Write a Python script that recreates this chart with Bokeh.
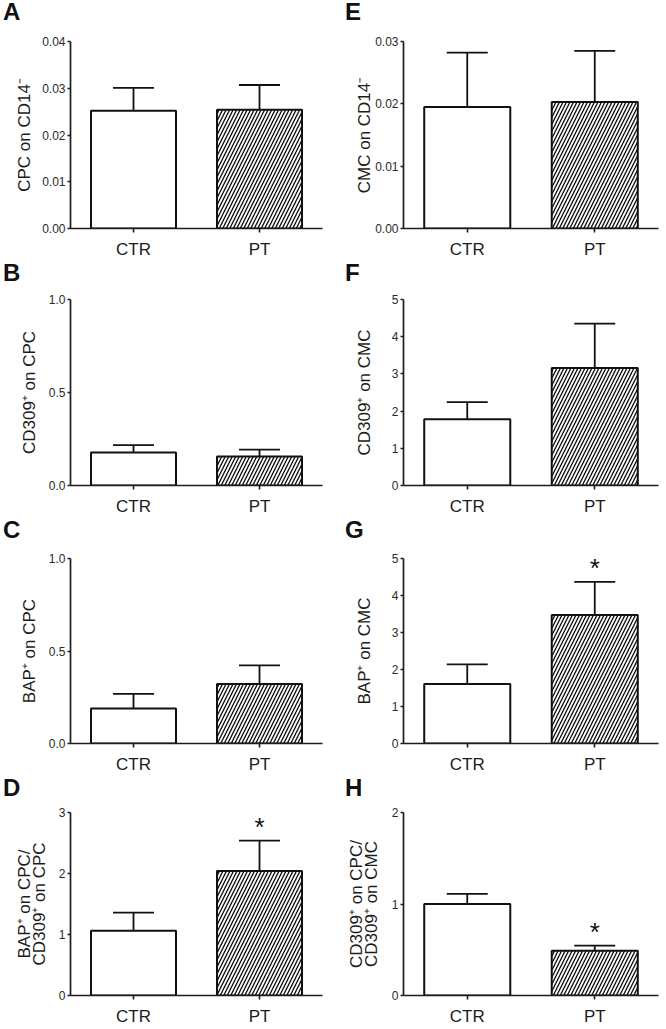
from bokeh.plotting import figure
from bokeh.models import (ColumnDataSource, FactorRange, Range1d, FixedTicker,
                          PrintfTickFormatter, Whisker, TeeHead, Div)
from bokeh.layouts import column, row
from bokeh.embed import file_html
from bokeh.resources import INLINE
from bokeh.core.properties import value, field

# ---------------- data ----------------
categories = ["CTR", "PT"]

panel_letters = ["A", "B", "C", "D", "E", "F", "G", "H"]
y_labels = [
    "CPC on CD14\u207b",
    "CD309\u207a on CPC",
    "BAP\u207a on CPC",
    "BAP\u207a on CPC/\nCD309\u207a on CPC",
    "CMC on CD14\u207b",
    "CD309\u207a on CMC",
    "BAP\u207a on CMC",
    "CD309\u207a on CPC/\nCD309\u207a on CMC",
]
y_max = [0.04, 1.0, 1.0, 3, 0.03, 5, 5, 2]
y_step = [0.01, 0.5, 0.5, 1, 0.01, 1, 1, 1]
y_fmt = ["%.2f", "%.1f", "%.1f", "%d", "%.2f", "%d", "%d", "%d"]

mean_A = [0.0252, 0.0254]
sem_A = [0.0049, 0.0053]
mean_B = [0.177, 0.156]
sem_B = [0.040, 0.037]
mean_C = [0.189, 0.321]
sem_C = [0.079, 0.101]
mean_D = [1.06, 2.04]
sem_D = [0.30, 0.50]
mean_E = [0.0195, 0.0203]
sem_E = [0.0087, 0.0082]
mean_F = [1.78, 3.16]
sem_F = [0.46, 1.19]
mean_G = [1.61, 3.47]
sem_G = [0.53, 0.90]
mean_H = [1.00, 0.49]
sem_H = [0.11, 0.054]

stars_A = ["", ""]
stars_B = ["", ""]
stars_C = ["", ""]
stars_D = ["", "*"]
stars_E = ["", ""]
stars_F = ["", ""]
stars_G = ["", "*"]
stars_H = ["", "*"]

means = [mean_A, mean_B, mean_C, mean_D, mean_E, mean_F, mean_G, mean_H]
sems = [sem_A, sem_B, sem_C, sem_D, sem_E, sem_F, sem_G, sem_H]
stars = [stars_A, stars_B, stars_C, stars_D, stars_E, stars_F, stars_G, stars_H]

# ---------------- styles ----------------
group_hatch = {"CTR": " ", "PT": "/"}
FONT = "Liberation Sans"
INK = "#1c1c1c"

col_left_border = [70, 70]
col_frame_w = [252, 255]
col_right_border = [11, 8]
col_width = [333, 333]
letter_pad = [3, 12]
LETTER_H = 24
row_top = [41, 38, 40, 36]
row_frame_h = [187, 186, 185, 183]
row_bottom = [33, 33, 33, 33]
label_standoff = [5, 7, 7, 7, -2, 15, 15, 8]
label_line_height = [1.2, 1.2, 1.2, 0.8, 1.2, 1.2, 1.2, 0.8]


def make_panel(i):
    col_i = i // 4
    row_i = i % 4
    ymax = y_max[i]
    src = ColumnDataSource(dict(
        cat=categories,
        mean=means[i],
        upper=[m + s for m, s in zip(means[i], sems[i])],
        hatch=[group_hatch[c] for c in categories],
    ))
    p = figure(
        x_range=FactorRange(factors=categories, range_padding=0),
        y_range=Range1d(0, ymax),
        frame_width=col_frame_w[col_i], frame_height=row_frame_h[row_i],
        min_border_left=col_left_border[col_i],
        min_border_right=col_right_border[col_i],
        min_border_top=row_top[row_i] - LETTER_H,
        min_border_bottom=row_bottom[row_i],
        output_backend="svg", toolbar_location=None, title_location=None,
    )

    p.vbar(x="cat", top="mean", width=0.675, source=src,
           fill_color="white", line_color="#111111", line_width=2,
           hatch_pattern=field("hatch"), hatch_color="#111111",
           hatch_scale=7, hatch_weight=1.35)

    w = Whisker(source=src, base="cat", lower="mean", upper="upper",
                line_color="#111111", line_width=1.8, lower_head=None,
                upper_head=TeeHead(size=41, line_color="#111111", line_width=1.8))
    p.add_layout(w)

    star_x = [c for c, s in zip(categories, stars[i]) if s]
    star_y = [m + s for m, s, st in zip(means[i], sems[i], stars[i]) if st]
    star_t = [s for s in stars[i] if s]
    if star_x:
        p.text(x=star_x, y=star_y, text=star_t, text_font=value(FONT),
               text_font_size="26px", text_align="center",
               text_baseline="alphabetic", y_offset=-14, text_color="#111111")

    ticks = []
    k = 0
    while k * y_step[i] <= ymax + 1e-9:
        ticks.append(round(k * y_step[i], 6))
        k += 1

    p.xgrid.visible = False
    p.ygrid.visible = False
    p.outline_line_color = None

    xa = p.xaxis[0]
    xa.axis_line_color = INK
    xa.axis_line_width = 1.7
    xa.major_tick_line_color = INK
    xa.major_tick_line_width = 1.6
    xa.major_tick_out = 4
    xa.major_tick_in = 0
    xa.minor_tick_line_color = None
    xa.major_label_text_font = FONT
    xa.major_label_text_font_size = "17px"
    xa.major_label_text_color = INK
    xa.major_label_standoff = 7

    ya = p.yaxis[0]
    ya.ticker = FixedTicker(ticks=ticks)
    ya.formatter = PrintfTickFormatter(format=y_fmt[i])
    ya.axis_line_color = INK
    ya.axis_line_width = 1.7
    ya.major_tick_line_color = INK
    ya.major_tick_line_width = 1.4
    ya.major_tick_out = 3
    ya.major_tick_in = 0
    ya.minor_tick_line_color = None
    ya.major_label_text_font = FONT
    ya.major_label_text_font_size = "12px"
    ya.major_label_text_color = "#2a2a2a"
    ya.major_label_standoff = 2
    ya.axis_label = y_labels[i]
    ya.axis_label_text_font = FONT
    ya.axis_label_text_font_size = "17px"
    ya.axis_label_text_font_style = "normal"
    ya.axis_label_text_color = INK
    ya.axis_label_text_line_height = label_line_height[i]
    ya.axis_label_standoff = label_standoff[i]

    letter = Div(
        text=('<div style="padding-left:%dpx;font-family:\'Liberation Sans\',Arial,sans-serif;'
              'font-size:24px;font-weight:bold;line-height:24px;color:#111111;margin:0">%s</div>'
              % (letter_pad[col_i], panel_letters[i])),
        width=col_width[col_i], height=LETTER_H, margin=0,
    )
    return column(letter, p, spacing=0)


panels = [make_panel(i) for i in range(8)]
layout = column(
    row(panels[0], panels[4], spacing=0),
    row(panels[1], panels[5], spacing=0),
    row(panels[2], panels[6], spacing=0),
    row(panels[3], panels[7], spacing=0),
    spacing=0,
)

open("out.html", "w").write(file_html(layout, INLINE))
